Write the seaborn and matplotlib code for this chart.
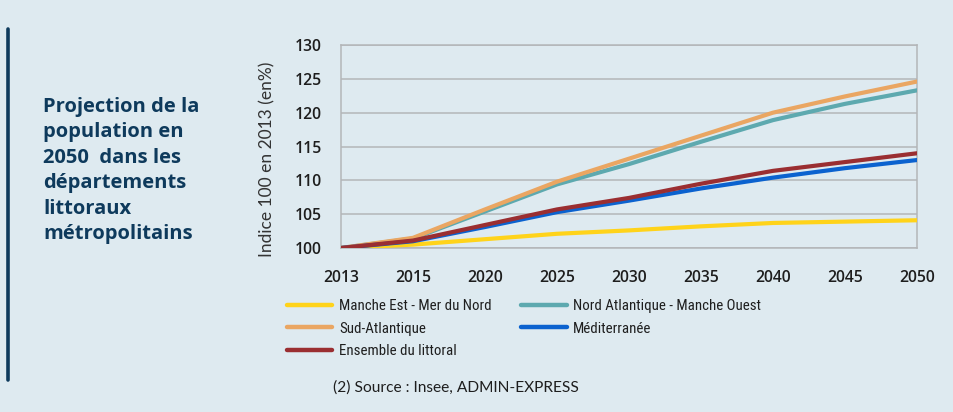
import os
import matplotlib
matplotlib.use("Agg")
import matplotlib.pyplot as plt
from matplotlib.lines import Line2D
from matplotlib import font_manager
from matplotlib.font_manager import FontProperties
import seaborn as sns
import pandas as pd

years = ["2013", "2015", "2020", "2025", "2030", "2035", "2040", "2045", "2050"]
manche_est = [100, 100.5, 101.3, 102.1, 102.6, 103.2, 103.7, 103.9, 104.1]
nord_atl = [100, 101.4, 105.4, 109.4, 112.4, 115.7, 118.9, 121.3, 123.3]
sud_atl = [100, 101.5, 105.7, 109.8, 113.2, 116.6, 120.0, 122.4, 124.6]
mediterranee = [100, 101.0, 103.1, 105.3, 107.0, 108.8, 110.4, 111.8, 113.0]
ensemble = [100, 101.1, 103.4, 105.7, 107.4, 109.5, 111.4, 112.7, 114.0]

series_names = ["Manche Est - Mer du Nord", "Nord Atlantique - Manche Ouest",
                "Sud-Atlantique", "Méditerranée", "Ensemble du littoral"]
series_values = [manche_est, nord_atl, sud_atl, mediterranee, ensemble]
colors = ["#FFD31A", "#5DA9AF", "#EAA662", "#0B62CF", "#9A2E31"]

y_ticks = [100, 105, 110, 115, 120, 125, 130]

title_text = "Projection de la\npopulation en\n2050  dans les\ndépartements\nlittoraux\nmétropolitains"
ylabel_text = "Indice 100 en 2013 (en%)"
source_text = "(2) Source : Insee, ADMIN-EXPRESS"

rows = []
for name, vals in zip(series_names, series_values):
    for y, v in zip(years, vals):
        rows.append({"Année": y, "Indice": v, "Série": name})
df = pd.DataFrame(rows)

# look for a condensed / narrow sans for the legend
cond_path = None
prefs = ["LiberationSansNarrow-Regular", "RobotoCondensed-Regular", "RobotoCondensed-Light",
         "DejaVuSansCondensed.ttf", "OpenSans_Condensed-Regular", "OpenSansCondensed"]
all_files = [f.fname for f in font_manager.fontManager.ttflist]
for p in prefs:
    hits = [f for f in all_files if p in os.path.basename(f)]
    if hits:
        cond_path = hits[0]
        break
if cond_path is None:
    for f in font_manager.fontManager.ttflist:
        if f.stretch in ("condensed", "semi-condensed") and "Bold" not in f.fname and "Oblique" not in f.fname:
            cond_path = f.fname
            break

sns.set_theme(style="white")
plt.rcParams["font.family"] = ["Open Sans", "DejaVu Sans"]

bg = "#DEEAF0"
grid_c = "#B3B6B8"
navy = "#0E3A5C"
text_c = "#1E1E1E"

fig = plt.figure(figsize=(9.54, 4.12), dpi=100, facecolor=bg)
ax = fig.add_axes([341 / 954, 1 - 248 / 412, (917 - 341) / 954, (248 - 45) / 412])
ax.set_facecolor(bg)

for yt in y_ticks:
    ax.axhline(yt, color=grid_c, lw=1.1, zorder=0)

palette = dict(zip(series_names, colors))
draw_order = ["Manche Est - Mer du Nord", "Nord Atlantique - Manche Ouest", "Sud-Atlantique",
              "Méditerranée", "Ensemble du littoral"]
for name in draw_order:
    sns.lineplot(data=df[df["Série"] == name], x="Année", y="Indice", color=palette[name],
                 lw=3.0, ax=ax, legend=False, zorder=3, sort=False)

ax.set_xlim(0, len(years) - 1)
ax.set_ylim(100, 130)
ax.set_xticks(range(len(years)))
ax.set_yticks(y_ticks)
ax.set_xticklabels(years, fontsize=11.3, fontweight="semibold", color=text_c)
ax.set_yticklabels([str(t) for t in y_ticks], fontsize=11.3, fontweight="semibold", color=text_c)
ax.tick_params(axis="y", direction="out", length=12, width=1.1, color=grid_c, pad=2)
ax.tick_params(axis="x", direction="inout", length=16, width=1.1, color=grid_c, pad=8)
for s in ["left", "right", "top", "bottom"]:
    ax.spines[s].set_visible(True)
    ax.spines[s].set_color(grid_c)
    ax.spines[s].set_linewidth(1.1)
ax.set_xlabel("")
ax.set_ylabel(ylabel_text, fontsize=12.5, color="#333333",
              fontfamily=["Lato", "DejaVu Sans"])
ax.yaxis.set_label_coords(-0.113, 0.435)

# legend (row-wise order)
leg_order = ["Manche Est - Mer du Nord", "Sud-Atlantique", "Ensemble du littoral",
             "Nord Atlantique - Manche Ouest", "Méditerranée"]
handles = [Line2D([0], [0], color=palette[n], lw=3.2) for n in leg_order]
if cond_path:
    leg_font = FontProperties(fname=cond_path, size=10.7)
else:
    leg_font = FontProperties(family="Lato", size=9.6)
leg = fig.legend(handles, leg_order, loc="upper left", bbox_to_anchor=(281 / 954, 1 - 293 / 412),
                 ncol=2, frameon=False, handlelength=3.05, handletextpad=0.45,
                 columnspacing=2.0, labelspacing=0.58, borderaxespad=0, prop=leg_font)
for t in leg.get_texts():
    t.set_color(text_c)

fig.text(43 / 954, 1 - 97 / 412, title_text, ha="left", va="top", fontsize=14.5,
         fontweight="bold", color=navy, linespacing=1.36)

fig.add_artist(Line2D([8 / 954, 8 / 954], [1 - 29 / 412, 1 - 380 / 412], color=navy, lw=2.6))

fig.text(333 / 954, 1 - 388 / 412, source_text, ha="left", va="center",
         color=text_c, fontproperties=FontProperties(family="Lato", size=11.2))

fig.savefig("out.png", dpi=100, facecolor=bg)
